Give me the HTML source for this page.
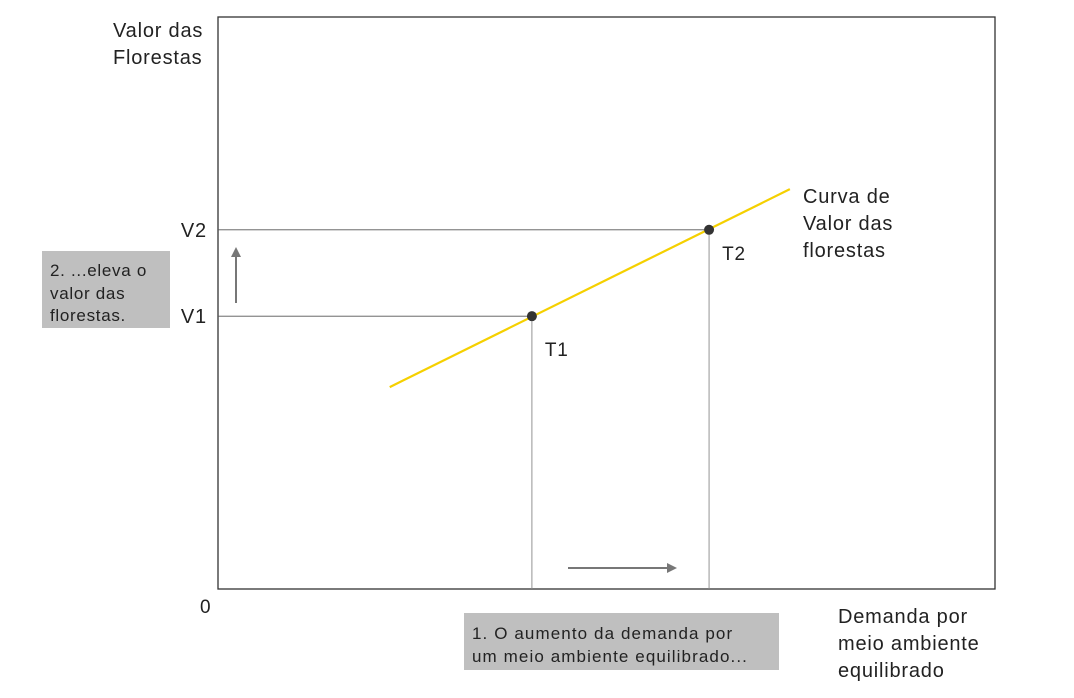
<!DOCTYPE html>
<html><head><meta charset="utf-8"><style>
body{margin:0;background:#fff;width:1074px;height:698px;overflow:hidden}
svg{display:block}
text{font-family:"Liberation Sans",sans-serif;fill:#222;letter-spacing:0.8px}
</style></head><body>
<svg id="c" width="1074" height="698">
<rect x="218" y="17" width="777" height="572" fill="none" stroke="#333" stroke-width="1.3"/>
<g id="g"></g>
<text x="113" y="37" font-size="20"><tspan x="113">Valor das</tspan><tspan x="113" dy="27">Florestas</tspan></text>
<text x="200" y="613" font-size="19">0</text>
<text x="838" y="623" font-size="20"><tspan x="838">Demanda por</tspan><tspan x="838" dy="27">meio ambiente</tspan><tspan x="838" dy="27">equilibrado</tspan></text>
<text x="803" y="203" font-size="20"><tspan x="803">Curva de</tspan><tspan x="803" dy="27">Valor das</tspan><tspan x="803" dy="27">florestas</tspan></text>
<rect x="42" y="251" width="128" height="77" fill="#bfbfbf"/>
<text font-size="17" style="letter-spacing:0.7px"><tspan x="50" y="276">2. ...eleva o</tspan><tspan x="50" y="299">valor das</tspan><tspan x="50" y="321">florestas.</tspan></text>
<rect x="464" y="613" width="315" height="57" fill="#bfbfbf"/>
<text font-size="17" style="letter-spacing:1.1px"><tspan x="472" y="639">1. O aumento da demanda por</tspan><tspan x="472" y="662">um meio ambiente equilibrado...</tspan></text>
<line x1="236" y1="303" x2="236" y2="256" stroke="#777" stroke-width="2"/>
<polygon points="231,257 241,257 236,247" fill="#777"/>
<line x1="568" y1="568" x2="668" y2="568" stroke="#777" stroke-width="2"/>
<polygon points="667,563 667,573 677,568" fill="#777"/>
</svg>
<script>
const curveX=[22.1,73.6];
const curveY=[35.3,69.9];
const pointNames=["T1","T2"];
const levelNames=["V1","V2"];
const pointX=[40.4,63.2];
const pointY=[47.7,62.8];
const sx=v=>218+v/100*777, sy=v=>589-v/100*572;
const g=document.getElementById('g'),NS='http://www.w3.org/2000/svg';
function mk(t,a){const e=document.createElementNS(NS,t);for(const k in a)e.setAttribute(k,a[k]);g.appendChild(e);return e;}
for(let i=0;i<pointX.length;i++){
 const px=sx(pointX[i]),py=sy(pointY[i]);
 let h=mk('line',{x1:218,y1:py,x2:px,y2:py,stroke:'#555','stroke-width':0.9});
 
 
 let v=mk('line',{x1:px,y1:py,x2:px,y2:589,stroke:'#888','stroke-width':0.9});
 
 
 let lt=mk('text',{x:207,y:py+7,'font-size':20,'text-anchor':'end'});lt.textContent=levelNames[i];
 
 
}
let cl=mk('line',{x1:sx(curveX[0]),y1:sy(curveY[0]),x2:sx(curveX[1]),y2:sy(curveY[1]),stroke:'#f5d000','stroke-width':2.2});


for(let i=0;i<pointX.length;i++){
 const px=sx(pointX[i]),py=sy(pointY[i]);
 let c=mk('circle',{cx:px,cy:py,r:5,fill:'#333'});
 
 
 let t=mk('text',{x:px+13,y:py+40-(i?10:0),'font-size':19});t.textContent=pointNames[i];
 
 
}
</script>
</body></html>
